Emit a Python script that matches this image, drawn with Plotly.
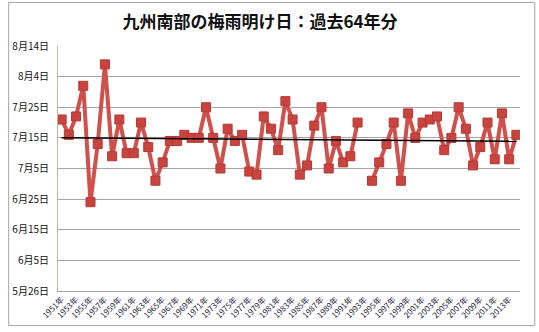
import numpy as np
import pandas as pd
import plotly.graph_objects as go

# End-of-rainy-season dates for southern Kyushu, 1951-2014 (None = not determined)
years = list(range(1951, 2015))
end_dates = [
    "07-21", "07-16", "07-22", "08-01", "06-24", "07-13", "08-08", "07-09", "07-21", "07-10",
    "07-10", "07-20", "07-12", "07-01", "07-07", "07-14", "07-14", "07-16", "07-15", "07-15",
    "07-25", "07-15", "07-05", "07-18", "07-14", "07-16", "07-04", "07-03", "07-22", "07-18",
    "07-11", "07-27", "07-21", "07-03", "07-06", "07-19", "07-25", "07-05", "07-14", "07-07",
    "07-09", "07-20", None, "07-01", "07-07", "07-13", "07-20", "07-01", "07-23", "07-15",
    "07-20", "07-21", "07-22", "07-11", "07-15", "07-25", "07-18", "07-06", "07-12", "07-20",
    "07-08", "07-23", "07-08", "07-16",
]
y_tick_dates = ["05-26", "06-05", "06-15", "06-25", "07-05", "07-15", "07-25", "08-04", "08-14"]
y_tick_labels = ["5月26日", "6月5日", "6月15日", "6月25日", "7月5日", "7月15日", "7月25日", "8月4日", "8月14日"]
x_tick_years = years[::2]
x_tick_labels = [f"{y}年" for y in x_tick_years]
title_text = "九州南部の梅雨明け日：過去64年分"


def day_of_year(md):
    if md is None:
        return None
    return pd.Timestamp(f"2001-{md}").dayofyear


doy = [day_of_year(d) for d in end_dates]
tick_doy = [day_of_year(d) for d in y_tick_dates]

# Linear trend over the years with a determined date
xs = np.array([y for y, d in zip(years, doy) if d is not None], dtype=float)
ys = np.array([d for d in doy if d is not None], dtype=float)
slope, intercept = np.polyfit(xs, ys, 1)
trend_x = [years[0], years[-1]]
trend_y = [slope * x + intercept for x in trend_x]

fig = go.Figure()
fig.add_trace(go.Scatter(
    x=years, y=doy, mode="lines+markers", connectgaps=False,
    line=dict(color="#D0504C", width=4),
    marker=dict(symbol="square", size=9, color="#C9433F",
                line=dict(color="#B53935", width=1)),
    showlegend=False, hoverinfo="skip",
))
fig.add_trace(go.Scatter(
    x=trend_x, y=trend_y, mode="lines",
    line=dict(color="#000000", width=1.5),
    showlegend=False, hoverinfo="skip",
))

L, R, T, B = 52, 19, 46, 38
W, H = 539, 332
pw, ph = W - L - R, H - T - B


def px_x(p):
    return (p - L) / pw


def px_y(q):
    return (H - B - q) / ph


# Chart frame
fig.add_shape(type="rect", xref="paper", yref="paper",
              x0=px_x(2), x1=px_x(535), y0=px_y(329), y1=px_y(2),
              line=dict(color="#A6A6A6", width=1), fillcolor="rgba(0,0,0,0)", layer="below")

fig.update_layout(
    width=W, height=H,
    margin=dict(l=L, r=R, t=T, b=B),
    paper_bgcolor="#FFFFFF", plot_bgcolor="#FFFFFF",
    font=dict(family="Noto Sans CJK JP", color="#111111"),
    title=dict(text=f"<b>{title_text}</b>", x=260 / W, xanchor="center",
               y=1 - 22 / H, yanchor="middle",
               font=dict(size=17, color="#111111", family="Noto Sans CJK JP")),
    xaxis=dict(
        range=[years[0] - 0.5, years[-1] + 0.5],
        tickmode="array", tickvals=x_tick_years, ticktext=x_tick_labels,
        tickangle=-45, tickfont=dict(size=8, color="#1A1A3A"),
        showgrid=False, zeroline=False,
        showline=True, linecolor="#A6A6A6", linewidth=1, ticks="",
    ),
    yaxis=dict(
        range=[tick_doy[0], tick_doy[-1]],
        tickmode="array", tickvals=tick_doy, ticktext=y_tick_labels,
        tickfont=dict(size=10, color="#111111"),
        showgrid=True, gridcolor="#A6A6A6", gridwidth=1,
        zeroline=False, showline=True, linecolor="#BFB49A", linewidth=1,
        ticks="", ticklabelstandoff=6,
    ),
)

fig.write_html("out.html")
